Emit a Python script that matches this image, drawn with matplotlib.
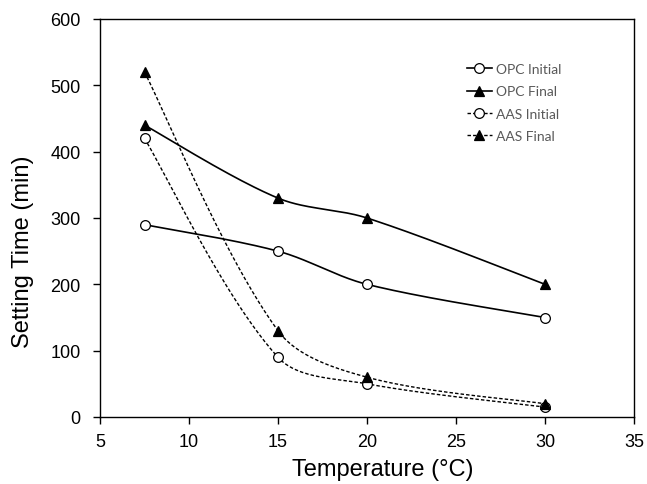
import numpy as np
import matplotlib
matplotlib.use("Agg")
import matplotlib.pyplot as plt

temps = [7.5, 15, 20, 30]
opc_initial = [290, 250, 200, 150]
opc_final = [440, 330, 300, 200]
aas_initial = [420, 90, 50, 15]
aas_final = [520, 130, 60, 20]
labels = ["OPC Initial", "OPC Final", "AAS Initial", "AAS Final"]
xticks = [5, 10, 15, 20, 25, 30, 35]
yticks = [0, 100, 200, 300, 400, 500, 600]

plt.rcParams['font.family'] = ['Liberation Sans', 'DejaVu Sans']

fig = plt.figure(figsize=(6.47, 4.85), dpi=100)
ax = fig.add_axes([100 / 647, 67 / 485, 534 / 647, 398 / 485])
ax.set_xlim(5, 35)
ax.set_ylim(0, 600)


def smooth(x, y, n=50):
    # Excel-like smoothed line: cubic Bezier, control points weighted by
    # segment lengths, computed in display space
    P = ax.transData.transform(np.column_stack([x, y]).astype(float))
    m = len(P)
    ctrl_out, ctrl_in = [], []
    for i in range(m):
        prev = P[i - 1] if i > 0 else P[i]
        nxt = P[i + 1] if i < m - 1 else P[i]
        tan = nxt - prev
        dp = np.linalg.norm(P[i] - prev)
        dn = np.linalg.norm(nxt - P[i])
        if i == 0 or i == m - 1:
            wo = wi = 0.5
        else:
            wo = dn / (dp + dn)
            wi = dp / (dp + dn)
        ctrl_out.append(P[i] + tan * wo / 3)
        ctrl_in.append(P[i] - tan * wi / 3)
    t = np.linspace(0, 1, n)[:, None]
    pts = []
    for i in range(m - 1):
        p0, p1, p2, p3 = P[i], ctrl_out[i], ctrl_in[i + 1], P[i + 1]
        b = (1 - t) ** 3 * p0 + 3 * (1 - t) ** 2 * t * p1 + 3 * (1 - t) * t ** 2 * p2 + t ** 3 * p3
        pts.append(b)
    pts = np.vstack(pts)
    d = ax.transData.inverted().transform(pts)
    return d[:, 0], d[:, 1]


dash = (0, (2.5, 1.5))
series = [
    (opc_initial, '-', 'o', 'white'),
    (opc_final, '-', '^', 'black'),
    (aas_initial, dash, 'o', 'white'),
    (aas_final, dash, '^', 'black'),
]
handles = []
for (vals, ls, mk, mfc), lab in zip(series, labels):
    lw = 1.2 if ls == '-' else 1.0
    sx, sy = smooth(temps, vals)
    ax.plot(sx, sy, color='black', linestyle=ls, linewidth=lw, zorder=2)
    ax.plot(temps, vals, linestyle='none', marker=mk,
            markersize=7.5 if mk == '^' else 7,
            markerfacecolor=mfc, markeredgecolor='black', markeredgewidth=0.9, zorder=3)
    h, = ax.plot([], [], color='black', linestyle=ls, linewidth=lw, marker=mk,
                 markersize=7.5 if mk == '^' else 7, markerfacecolor=mfc,
                 markeredgecolor='black', markeredgewidth=0.9)
    handles.append(h)

ax.set_xticks(xticks)
ax.set_yticks(yticks)
ax.tick_params(direction='out', length=5, width=1, labelsize=13)
ax.tick_params(axis='x', pad=6.3)
ax.tick_params(axis='y', pad=9)
for s in ax.spines.values():
    s.set_linewidth(1.0)
ax.set_xlabel('Temperature (°C)', fontsize=17)
ax.set_ylabel('Setting Time (min)', fontsize=17)
ax.xaxis.set_label_coords(0.530, -0.102)
ax.yaxis.set_label_coords(-0.124, 0.417)

leg = ax.legend(handles, labels, loc='upper left', bbox_to_anchor=(0.687, 0.889),
                frameon=False, handlelength=1.8, handletextpad=0.3,
                labelspacing=0.74, borderpad=0, borderaxespad=0,
                prop={'family': ['Lato', 'DejaVu Sans'], 'size': 10})
for t in leg.get_texts():
    t.set_color('#595959')

fig.savefig('out.png', dpi=100)
